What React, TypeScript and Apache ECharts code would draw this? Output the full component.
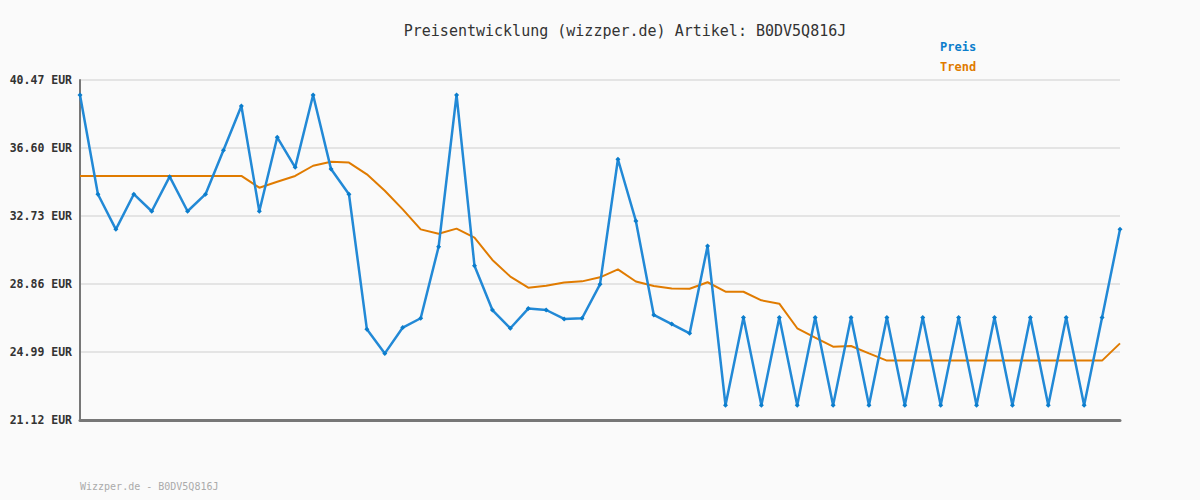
import React, { useEffect, useRef } from "react";
import * as echarts from "echarts";

const titleText = "Preisentwicklung (wizzper.de) Artikel: B0DV5Q816J";
const footerText = "Wizzper.de - B0DV5Q816J";
const yTicks = [21.12, 24.99, 28.86, 32.73, 36.6, 40.47];

const preis = [
  39.62, 33.97, 31.97, 33.97, 33.0, 34.97, 33.0, 33.97, 36.47, 38.99,
  33.0, 37.21, 35.5, 39.62, 35.4, 33.97, 26.28, 24.91, 26.38, 26.91,
  30.98, 39.62, 29.9, 27.38, 26.34, 27.46, 27.38, 26.87, 26.91, 28.84,
  35.96, 32.45, 27.1, 26.58, 26.05, 31.02, 21.96, 26.96, 21.96, 26.96,
  21.96, 26.96, 21.96, 26.96, 21.96, 26.96, 21.96, 26.96, 21.96, 26.96,
  21.96, 26.96, 21.96, 26.96, 21.96, 26.96, 21.96, 26.96, 31.97,
];

const trend = [
  35.01, 35.01, 35.01, 35.01, 35.01, 35.01, 35.01, 35.01, 35.01, 35.01,
  34.34, 34.68, 35.01, 35.59, 35.82, 35.77, 35.1, 34.17, 33.11, 31.97,
  31.72, 32.01, 31.5, 30.23, 29.28, 28.65, 28.76, 28.94, 29.01, 29.24,
  29.69, 29.0, 28.75, 28.61, 28.59, 28.96, 28.42, 28.42, 27.93, 27.74,
  26.34, 25.81, 25.29, 25.33, 24.91, 24.5, 24.5, 24.5, 24.5, 24.5,
  24.5, 24.5, 24.5, 24.5, 24.5, 24.5, 24.5, 24.5, 25.48,
];

const categories = preis.map((_, i) => String(i + 1));

const MONO = "'DejaVu Sans Mono', 'Liberation Mono', monospace";

export default function App() {
  const ref = useRef<HTMLDivElement>(null);
  useEffect(() => {
    document.body.style.margin = "0";
    if (!ref.current) return;
    const chart = echarts.init(ref.current, undefined, { renderer: "svg" });
    chart.setOption({
      animation: false,
      backgroundColor: "#fafafa",
      title: {
        text: titleText,
        left: 620,
        top: 18,
        textAlign: "center",
        textStyle: { fontFamily: MONO, fontSize: 15, fontWeight: "normal", color: "#333" },
      },
      graphic: [
        {
          type: "text",
          left: 940,
          top: 41,
          style: { text: "Preis", fill: "#0b7dcc", font: `bold 12px ${MONO}` },
        },
        {
          type: "text",
          left: 940,
          top: 61,
          style: { text: "Trend", fill: "#e07b00", font: `bold 12px ${MONO}` },
        },
        {
          type: "text",
          left: 80,
          top: 481,
          style: { text: footerText, fill: "#aaa", font: `10px ${MONO}` },
        },
      ],
      grid: { left: 80, right: 80, top: 80, bottom: 80, containLabel: false },
      xAxis: {
        type: "category",
        data: categories,
        boundaryGap: false,
        axisLine: { show: true, lineStyle: { color: "#777", width: 3 } },
        axisTick: { show: false },
        axisLabel: { show: false },
        splitLine: { show: false },
      },
      yAxis: {
        type: "value",
        min: yTicks[0],
        max: yTicks[yTicks.length - 1],
        axisLine: { show: true, lineStyle: { color: "#777", width: 2 } },
        axisTick: { show: false, customValues: yTicks },
        axisLabel: {
          customValues: yTicks,
          formatter: (v: number) => v.toFixed(2) + " EUR",
          fontFamily: MONO,
          fontWeight: "bold",
          fontSize: 11.5,
          color: "#333",
          margin: 8,
        },
        splitLine: { show: true, lineStyle: { color: "#e4e4e4", width: 2 } },
      },
      series: [
        {
          name: "Trend",
          type: "line",
          data: trend,
          symbol: "none",
          lineStyle: { color: "#e07b00", width: 2 },
          z: 2,
        },
        {
          name: "Preis",
          type: "line",
          data: preis,
          symbol: "diamond",
          symbolSize: 5,
          itemStyle: { color: "#0b7dcc" },
          lineStyle: { color: "#2289d6", width: 2.5 },
          z: 3,
        },
      ],
    });
    return () => chart.dispose();
  }, []);
  return <div ref={ref} style={{ width: 1200, height: 500 }} />;
}
